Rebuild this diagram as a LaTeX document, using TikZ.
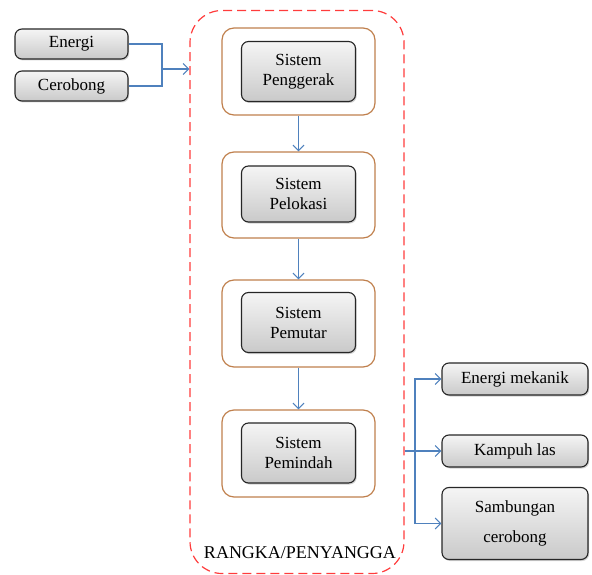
\documentclass[tikz,border=0pt]{standalone}
\usepackage{fontspec}
\setmainfont{Liberation Serif}
\usetikzlibrary{arrows.meta,shadows}
\definecolor{arrowblue}{RGB}{79,129,189}
\definecolor{framered}{RGB}{255,60,60}
\definecolor{brownline}{RGB}{192,128,77}
\tikzset{
  graybox/.style={draw=black!85, line width=1.1pt, rounded corners=7pt, top color=gray!8, bottom color=gray!42, align=center, font=\fontsize{17}{20}\selectfont, drop shadow={shadow xshift=1.2pt, shadow yshift=-1.5pt, opacity=0.35}},
  outerbox/.style={draw=brownline, line width=1.2pt, rounded corners=12pt, fill=white},
  link/.style={draw=arrowblue, line width=1.1pt},
  linkarrow/.style={link, -{Straight Barb[length=5.5pt,width=11pt,line width=1.1pt]}},
  frame/.style={draw=framered, line width=1.2pt, dash pattern=on 9pt off 5pt, rounded corners=32pt}
}
\begin{document}
\begin{tikzpicture}[x=1pt,y=-1pt]
\useasboundingbox (0,0) rectangle (592,575);
% frame
\node[frame, minimum width=214pt, minimum height=563pt] (frame) at (297,292) {};
\node[font=\fontsize{18}{20}\selectfont] (lbl) at (300,553) {RANGKA/PENYANGGA};
% inputs
\node[graybox, minimum width=113pt, minimum height=30pt] (en) at (71.5,44) {Energi};
\node[graybox, minimum width=113pt, minimum height=30pt] (ce) at (71.5,86) {Cerobong};
\coordinate (j) at (162,69);
\draw[link] (en.east) -| (j);
\draw[link] (ce.east) -| (j);
\draw[linkarrow] (j) -- (frame.west |- j);
% systems
\node[outerbox, minimum width=153pt, minimum height=87pt] (o1) at (298.5,71.5) {};
\node[graybox, minimum width=114pt, minimum height=60pt] (s1) at (298.5,71.5) {Sistem\\Penggerak};
\node[outerbox, minimum width=153pt, minimum height=86pt] (o2) at (298.5,195) {};
\node[graybox, minimum width=114pt, minimum height=56pt] (s2) at (298.5,194) {Sistem\\Pelokasi};
\node[outerbox, minimum width=153pt, minimum height=87pt] (o3) at (298.5,323.5) {};
\node[graybox, minimum width=114pt, minimum height=60pt] (s3) at (298.5,322.5) {Sistem\\Pemutar};
\node[outerbox, minimum width=153pt, minimum height=87pt] (o4) at (298.5,453.5) {};
\node[graybox, minimum width=114pt, minimum height=60pt] (s4) at (298.5,453) {Sistem\\Pemindah};
\draw[linkarrow] (o1.south) -- (o2.north);
\draw[linkarrow] (o2.south) -- (o3.north);
\draw[linkarrow] (o3.south) -- (o4.north);
% outputs
\node[graybox, minimum width=146pt, minimum height=32pt] (em) at (515,379) {Energi mekanik};
\node[graybox, minimum width=146pt, minimum height=32pt] (kl) at (515,451) {Kampuh las};
\node[graybox, minimum width=146pt, minimum height=72pt, font=\fontsize{17}{30}\selectfont] (sc) at (515,523.5) {Sambungan\\cerobong};
\coordinate (r) at (415,451);
\draw[linkarrow] (frame.east |- kl.west) -- (kl.west);
\draw[linkarrow] (r) |- (em.west);
\draw[linkarrow] (r) |- (sc.west);
\end{tikzpicture}
\end{document}
